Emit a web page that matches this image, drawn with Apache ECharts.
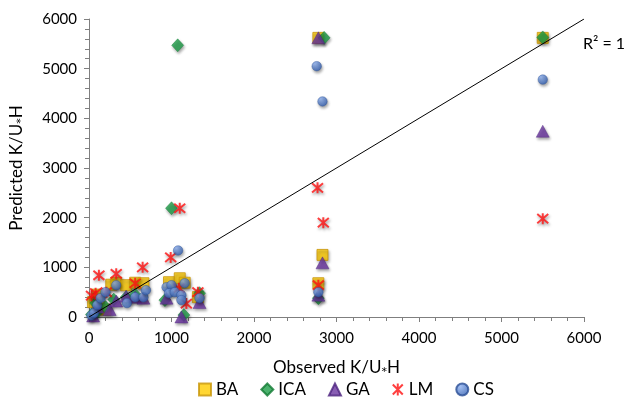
<!DOCTYPE html>
<html><head><meta charset="utf-8">
<script src="https://cdn.jsdelivr.net/npm/echarts@6/dist/echarts.min.js"></script>
<style>html,body{margin:0;padding:0;background:#fff}#c{width:628px;height:408px}</style>
</head><body><div id="c"></div>
<script>
// Observed (x) and predicted (y) values per method
const baX = [50, 100, 120, 200, 270, 330, 450, 560, 660, 970, 1100, 1160, 1320, 2780, 2830, 2780, 5500];
const baY = [300, 450, 200, 150, 650, 690, 640, 690, 680, 700, 780, 690, 400, 680, 1250, 5620, 5620];
const icaX = [30, 80, 100, 200, 300, 450, 560, 920, 1000, 1075, 1150, 1340, 2780, 2850, 5500];
const icaY = [50, 280, 100, 200, 350, 400, 450, 340, 2190, 5470, 40, 480, 380, 5620, 5630];
const gaX = [50, 100, 250, 330, 450, 560, 660, 940, 1120, 1340, 2780, 2830, 2780, 5500];
const gaY = [20, 200, 150, 320, 420, 400, 380, 380, 0, 290, 440, 1090, 5620, 3740];
const lmX = [30, 80, 120, 210, 330, 560, 650, 990, 1090, 1100, 1180, 1320, 2780, 2770, 2840, 5500];
const lmY = [430, 480, 840, 500, 870, 680, 1000, 1200, 580, 2190, 270, 500, 640, 2600, 1900, 1980];
const csX = [30, 60, 100, 140, 200, 330, 460, 560, 660, 690, 940, 1000, 970, 1040, 1120, 1120, 1080, 1160, 1340, 2780, 2760, 2830, 5500];
const csY = [30, 80, 240, 380, 500, 640, 280, 400, 400, 540, 600, 640, 480, 500, 440, 340, 1340, 680, 380, 500, 5050, 4340, 4780];
const seriesNames = ['BA', 'ICA', 'GA', 'LM', 'CS'];
const xTicks = [0, 1000, 2000, 3000, 4000, 5000, 6000];
const yTicks = [0, 1000, 2000, 3000, 4000, 5000, 6000];
const fitLine = [[0, 0], [6000, 6000]];

const pair = (xs, ys) => xs.map((x, i) => [x, ys[i]]);
const font = 'Lato, "Open Sans", sans-serif';
const shadow = {shadowBlur: 3, shadowColor: 'rgba(0,0,0,0.45)', shadowOffsetX: 1, shadowOffsetY: 2};
const star = 'path://M0 0 L10 10 M10 0 L0 10 M5 -1 L5 11';

const chart = echarts.init(document.getElementById('c'));
const axisCommon = {
  min: 0, max: 6000, interval: 1000,
  axisLine: {show: true, lineStyle: {color: '#7f7f7f', width: 1}},
  axisTick: {show: true, length: 5, lineStyle: {color: '#7f7f7f'}},
  minorTick: {show: true, splitNumber: 5, length: 4, lineStyle: {color: '#7f7f7f'}},
  splitLine: {show: false},
  axisLabel: {color: '#000', fontSize: 15, fontFamily: font}
};
const nameRich = {s: {fontSize: 11, fontFamily: 'DejaVu Sans', color: '#000', padding: [4, 0, 0, 0]}};
chart.setOption({
  animation: false,
  grid: {left: 87, right: 44, top: 19, bottom: 91},
  xAxis: Object.assign({}, axisCommon, {
    type: 'value', name: 'Observed K/U{s|\u204E}H', nameLocation: 'middle', nameGap: 42,
    nameTextStyle: {fontSize: 17, color: '#000', fontFamily: font, rich: nameRich},
    axisLabel: Object.assign({}, axisCommon.axisLabel, {margin: 14, formatter: v => xTicks.includes(v) ? String(v) : ''})
  }),
  yAxis: Object.assign({}, axisCommon, {
    type: 'value', name: 'Predicted K/U{s|\u204E}H', nameLocation: 'middle', nameGap: 64,
    nameTextStyle: {fontSize: 17, color: '#000', fontFamily: font, rich: nameRich},
    axisLabel: Object.assign({}, axisCommon.axisLabel, {margin: 12, formatter: v => yTicks.includes(v) ? String(v) : ''})
  }),
  legend: {
    data: seriesNames, bottom: 5, left: 193, itemGap: 22, itemWidth: 12, itemHeight: 12,
    textStyle: {fontSize: 17, color: '#000', fontFamily: font}
  },
  graphic: [{type: 'text', left: 583, top: 36, style: {text: 'R\u00B2 = 1', fontSize: 16, fill: '#000', fontFamily: font}}],
  series: [
    {name: 'BA', type: 'scatter', data: pair(baX, baY), symbol: 'rect', symbolSize: 11,
     itemStyle: Object.assign({color: '#FFCC00', borderColor: '#C8960A', borderWidth: 1}, shadow)},
    {name: 'ICA', type: 'scatter', data: pair(icaX, icaY), symbol: 'diamond', symbolSize: [12, 13],
     itemStyle: Object.assign({color: '#1E9E48', borderColor: '#127A33', borderWidth: 0.5}, shadow)},
    {name: 'GA', type: 'scatter', data: pair(gaX, gaY), symbol: 'triangle', symbolSize: [13, 12],
     itemStyle: Object.assign({color: '#6A35A0', borderColor: '#4E2480', borderWidth: 0.5}, shadow)},
    {name: 'LM', type: 'scatter', data: pair(lmX, lmY), symbol: star, symbolSize: 11,
     itemStyle: Object.assign({color: 'transparent', borderColor: '#FF1010', borderWidth: 2}, shadow)},
    {name: 'CS', type: 'scatter', data: pair(csX, csY), symbol: 'circle', symbolSize: 9.5,
     itemStyle: Object.assign({color: {type: 'radial', x: 0.35, y: 0.3, r: 0.75, colorStops: [{offset: 0, color: '#8DB0F0'}, {offset: 1, color: '#2E5BAE'}]}, borderColor: '#2A4F96', borderWidth: 0.5}, shadow)},
    {name: 'fit', type: 'line', data: fitLine, showSymbol: false, symbol: 'none', silent: true, z: 5,
     lineStyle: {color: '#000', width: 1}}
  ]
});
</script></body></html>
